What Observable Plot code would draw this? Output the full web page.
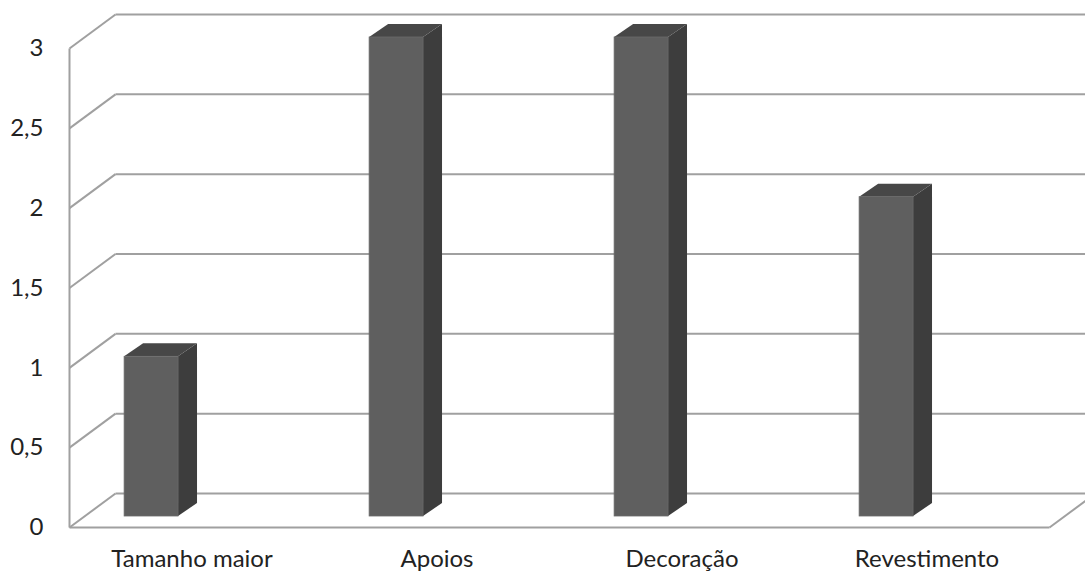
<!DOCTYPE html>
<html><head><meta charset="utf-8">
<script src="https://cdn.jsdelivr.net/npm/d3@7"></script>
<script src="https://cdn.jsdelivr.net/npm/@observablehq/plot@0.6"></script>
<style>html,body{margin:0;padding:0;background:#fff;overflow:hidden}</style>
</head><body><div id="chart"></div>
<script>
const categories = ["Tamanho maior", "Apoios", "Decoração", "Revestimento"];
const values = [1, 3, 3, 2];
const yTicks = [0, 0.5, 1, 1.5, 2, 2.5, 3];
const xTickPositions = [0, 1, 2, 3];

// 3D projection constants, in data units
const floorDX = 46 / 245, floorDY = 34 / 159.67;   // depth of the chart floor/walls
const barDX = 19 / 245, barDY = 13 / 159.67;       // depth of each bar
const barLift = 11 / 159.67;                       // bars stand mid-depth on the floor
const barOffset = -0.165, barHalf = 0.11;
const xLeft = -0.5, xRight = 3.5, xEdge = 3.65;

const bars = categories.map((c, i) => ({
  c, v: values[i],
  x1: i + barOffset - barHalf, x2: i + barOffset + barHalf,
  y1: barLift, y2: values[i] + barLift
}));
const sides = bars.flatMap(b => [
  {c: b.c, x: b.x2, y1: b.y1, y2: b.y2},
  {c: b.c, x: b.x2 + barDX, y1: b.y1 + barDY, y2: b.y2 + barDY}
]);
const tops = bars.flatMap(b => [
  {c: b.c, y: b.y2, x1: b.x1, x2: b.x2},
  {c: b.c, y: b.y2 + barDY, x1: b.x1 + barDX, x2: b.x2 + barDX}
]);

const grid = yTicks.filter(t => t > 0).flatMap(t => [
  {x1: xLeft, y1: t, x2: xLeft + floorDX, y2: t + floorDY},
  {x1: xLeft + floorDX, y1: t + floorDY, x2: xEdge, y2: t + floorDY}
]);
const frame = [
  {x1: xLeft, y1: 0, x2: xRight, y2: 0},
  {x1: xLeft, y1: 0, x2: xLeft + floorDX, y2: floorDY},
  {x1: xLeft + floorDX, y1: floorDY, x2: xEdge, y2: floorDY},
  {x1: xRight, y1: 0, x2: xRight + floorDX, y2: floorDY},
  {x1: xLeft, y1: 0, x2: xLeft, y2: 3}
];

const chart = Plot.plot({
  width: 1085,
  height: 573,
  marginLeft: 69,
  marginRight: 36,
  marginTop: 48,
  marginBottom: 46,
  style: {fontFamily: "Lato, 'Open Sans', sans-serif", fontSize: "24px", color: "#222", background: "#fff", overflow: "visible"},
  x: {domain: [xLeft, xRight], ticks: xTickPositions, tickFormat: i => categories[i], tickSize: 0, tickPadding: 22, label: null},
  y: {domain: [0, 3], ticks: yTicks, tickFormat: d => String(d).replace(".", ","), tickSize: 0, tickPadding: 26, label: null},
  marks: [
    Plot.link(grid, {x1: "x1", y1: "y1", x2: "x2", y2: "y2", stroke: "#a0a0a0", strokeWidth: 2}),
    Plot.link(frame, {x1: "x1", y1: "y1", x2: "x2", y2: "y2", stroke: "#a0a0a0", strokeWidth: 2}),
    Plot.areaY(sides, {x: "x", y1: "y1", y2: "y2", z: "c", fill: "#3d3d3d"}),
    Plot.areaX(tops, {y: "y", x1: "x1", x2: "x2", z: "c", fill: "#474747"}),
    Plot.rect(bars, {x1: "x1", x2: "x2", y1: "y1", y2: "y2", fill: "#5f5f5f", stroke: "#6a6a6a", strokeWidth: 0.8})
  ]
});
document.getElementById("chart").appendChild(chart);
</script>
</body></html>
